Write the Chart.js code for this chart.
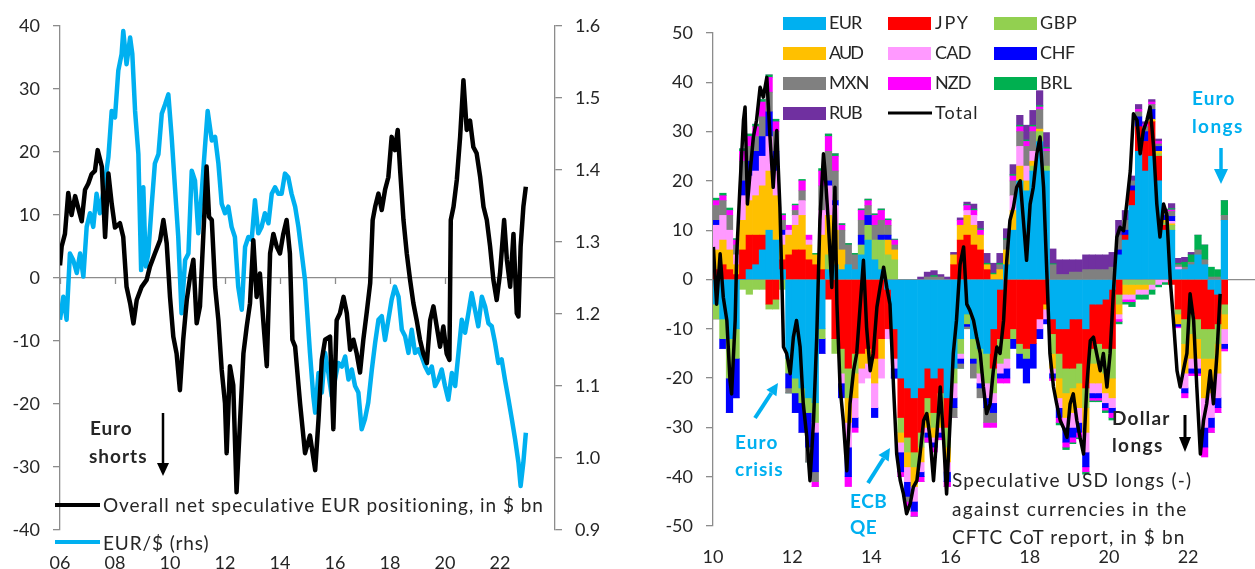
<!DOCTYPE html>
<html><head><meta charset="utf-8">
<script src="https://cdn.jsdelivr.net/npm/chart.js@4.4.1/dist/chart.umd.min.js"></script>
<style>
html,body{margin:0;padding:0;background:#fff;}
body{width:1255px;height:569px;position:relative;overflow:hidden;font-family:Lato,"Noto Sans",sans-serif;color:#262626;}
canvas{position:absolute;top:0;}
#c1{left:0;}
#c2{left:640px;}
.t{position:absolute;white-space:nowrap;line-height:1;font-size:19px;}
.b{font-weight:bold;}
.bl{color:#00B0F0;}
.sw{position:absolute;width:43px;height:13px;}
svg{position:absolute;left:0;top:0;}
</style></head>
<body>
<canvas id="c1" width="610" height="600"></canvas>
<canvas id="c2" width="615" height="600"></canvas>
<svg width="1255" height="569" viewBox="0 0 1255 569">
  <line x1="55" y1="505" x2="100" y2="505" stroke="#000" stroke-width="4"/>
  <line x1="55" y1="542" x2="100" y2="542" stroke="#00B0F0" stroke-width="4"/>
  <line x1="163" y1="413" x2="163" y2="466" stroke="#000" stroke-width="2.5"/>
  <polygon points="157,463 169,463 163,476" fill="#000"/>
  <line x1="1221" y1="148" x2="1221" y2="172" stroke="#00B0F0" stroke-width="3.5"/>
  <polygon points="1214,169 1228,169 1221,184" fill="#00B0F0"/>
  <line x1="1185" y1="415" x2="1185" y2="440" stroke="#000" stroke-width="3"/>
  <polygon points="1179,437 1191,437 1185,452" fill="#000"/>
  <line x1="755" y1="418" x2="771.4" y2="393" stroke="#00B0F0" stroke-width="4"/>
  <polygon points="778,383 776.4,396.3 766.4,389.7" fill="#00B0F0"/>
  <line x1="868" y1="483" x2="883.6" y2="458.2" stroke="#00B0F0" stroke-width="4"/>
  <polygon points="890,448 888.7,461.4 878.5,455.0" fill="#00B0F0"/>
  <line x1="888" y1="113" x2="932" y2="113" stroke="#000" stroke-width="3"/>
</svg>
<div class="t" data-x="103" data-y="505" data-w="441">Overall net speculative EUR positioning, in $ bn</div>
<div class="t" data-x="103" data-y="543" data-w="106">EUR/$ (rhs)</div>
<div class="t b" data-x="90" data-y="428" data-w="42">Euro</div>
<div class="t b" data-x="89" data-y="456" data-w="58">shorts</div>
<div class="t b bl" data-x="1192" data-y="98" data-w="43">Euro</div>
<div class="t b bl" data-x="1192" data-y="126" data-w="51">longs</div>
<div class="t b bl" data-x="735" data-y="442" data-w="43">Euro</div>
<div class="t b bl" data-x="735" data-y="469" data-w="48">crisis</div>
<div class="t b bl" data-x="850" data-y="501" data-w="37">ECB</div>
<div class="t b bl" data-x="850" data-y="527" data-w="27">QE</div>
<div class="t b" data-x="1112" data-y="418" data-w="58">Dollar</div>
<div class="t b" data-x="1112" data-y="445" data-w="51">longs</div>
<div class="t" data-x="952" data-y="480" data-w="240">Speculative USD longs (-)</div>
<div class="t" data-x="952" data-y="509" data-w="235">against currencies in the</div>
<div class="t" data-x="952" data-y="537" data-w="233">CFTC CoT report, in $ bn</div>
<div id="leg2"></div>
<script>
// ---------- LEFT PANEL DATA ----------
const leftTickYears = [2006, 2008, 2010, 2012, 2014, 2016, 2018, 2020, 2022];
const leftTickLabels = ['06', '08', '10', '12', '14', '16', '18', '20', '22'];

const eurPosYears = [2006.00,2006.06,2006.18,2006.30,2006.42,2006.55,2006.67,2006.79,2006.91,2007.03,2007.15,2007.27,2007.37,2007.52,2007.64,2007.76,2007.88,2008.00,2008.18,2008.30,2008.42,2008.55,2008.67,2008.79,2008.97,2009.15,2009.27,2009.45,2009.64,2009.76,2009.88,2010.00,2010.12,2010.24,2010.36,2010.48,2010.61,2010.73,2010.85,2010.97,2011.09,2011.21,2011.33,2011.42,2011.52,2011.64,2011.76,2011.88,2012.00,2012.06,2012.18,2012.30,2012.42,2012.55,2012.67,2012.79,2012.91,2013.03,2013.15,2013.27,2013.39,2013.52,2013.64,2013.76,2013.88,2014.00,2014.12,2014.24,2014.36,2014.45,2014.55,2014.73,2014.91,2015.09,2015.28,2015.40,2015.52,2015.64,2015.82,2015.94,2016.06,2016.18,2016.31,2016.43,2016.55,2016.67,2016.79,2016.91,2017.03,2017.15,2017.28,2017.37,2017.46,2017.58,2017.70,2017.82,2017.94,2018.06,2018.18,2018.28,2018.37,2018.49,2018.61,2018.73,2018.85,2018.97,2019.09,2019.21,2019.34,2019.46,2019.58,2019.70,2019.82,2019.94,2020.06,2020.16,2020.21,2020.31,2020.43,2020.55,2020.67,2020.79,2020.91,2021.03,2021.15,2021.28,2021.40,2021.52,2021.64,2021.76,2021.88,2022.00,2022.15,2022.25,2022.37,2022.49,2022.61,2022.67,2022.75,2022.85,2022.94];
const eurPos = [2.0,5.0,7,13.5,10,13,11,9,14,15,16.5,17,20.3,17.7,6.5,16.6,11.8,8,8.7,6.5,-1.4,-4,-7.2,-3.5,-1.4,-0.3,1.8,3.9,6,9.2,5.5,-3,-9.3,-12,-17.8,-9.8,-3.5,0.2,2.9,-7.2,-4.5,6.6,17.7,9.7,9.2,-1.4,-6.7,-14.6,-19.9,-27.8,-14,-17,-34,-22.5,-12,-7.7,-4,6,-3,0.7,-6.7,-14,3.9,7,5,3.9,7,9.2,3.9,-9.8,-10.9,-19.9,-27.8,-25,-30.5,-22.5,-13,-9.8,-9.3,-24,-6.7,-5.6,-3,-5.6,-11.4,-9.8,-12,-15,-9.8,-5.6,-0.8,9.2,11.3,13.4,10.8,14,16,22.4,20.3,23.5,17,9.2,3.9,-0.3,-4,-6.7,-9.8,-12,-13.5,-6.7,-4.5,-7.7,-10.9,-7.7,-12,-13,9.2,11.3,15.6,22.4,31.4,23.5,25,20.8,19.8,16,11.3,9.2,5,-0.3,-3.5,0.7,9.2,2.9,-1.4,7,-5.6,-6.1,5,11.3,14.5];

const eurUsdYears = [2006.00,2006.12,2006.24,2006.36,2006.48,2006.61,2006.73,2006.85,2006.97,2007.09,2007.21,2007.33,2007.45,2007.64,2007.76,2007.88,2008.00,2008.12,2008.24,2008.30,2008.42,2008.55,2008.63,2008.73,2008.85,2008.95,2009.03,2009.12,2009.21,2009.33,2009.45,2009.58,2009.70,2009.82,2009.94,2010.06,2010.18,2010.30,2010.42,2010.55,2010.67,2010.79,2010.91,2011.03,2011.15,2011.27,2011.37,2011.52,2011.64,2011.76,2011.88,2012.00,2012.12,2012.24,2012.36,2012.48,2012.61,2012.73,2012.85,2012.97,2013.09,2013.21,2013.33,2013.45,2013.58,2013.70,2013.82,2013.94,2014.06,2014.18,2014.30,2014.42,2014.55,2014.67,2014.79,2014.91,2015.09,2015.21,2015.28,2015.40,2015.52,2015.64,2015.76,2015.88,2016.00,2016.12,2016.25,2016.37,2016.49,2016.61,2016.73,2016.85,2016.97,2017.09,2017.21,2017.34,2017.46,2017.58,2017.70,2017.82,2017.94,2018.06,2018.18,2018.31,2018.43,2018.55,2018.67,2018.79,2018.91,2019.03,2019.15,2019.28,2019.40,2019.52,2019.64,2019.76,2019.88,2020.00,2020.12,2020.25,2020.37,2020.49,2020.61,2020.73,2020.85,2020.97,2021.09,2021.21,2021.34,2021.46,2021.58,2021.70,2021.82,2021.94,2022.06,2022.18,2022.31,2022.43,2022.55,2022.67,2022.75,2022.85,2022.94];
const eurUsd = [1.192,1.224,1.192,1.284,1.275,1.257,1.284,1.252,1.321,1.34,1.321,1.367,1.34,1.385,1.418,1.482,1.473,1.538,1.561,1.593,1.547,1.584,1.561,1.482,1.422,1.261,1.376,1.266,1.284,1.349,1.409,1.422,1.478,1.491,1.505,1.446,1.376,1.307,1.201,1.275,1.284,1.399,1.385,1.312,1.367,1.431,1.482,1.441,1.446,1.409,1.353,1.34,1.349,1.321,1.307,1.238,1.206,1.293,1.307,1.303,1.358,1.312,1.321,1.34,1.326,1.367,1.376,1.367,1.367,1.395,1.39,1.367,1.349,1.321,1.284,1.247,1.146,1.086,1.063,1.118,1.091,1.146,1.118,1.086,1.109,1.132,1.127,1.141,1.109,1.123,1.1,1.091,1.04,1.054,1.077,1.123,1.16,1.192,1.197,1.164,1.192,1.22,1.238,1.224,1.178,1.169,1.146,1.178,1.146,1.151,1.141,1.127,1.118,1.127,1.1,1.109,1.123,1.1,1.081,1.118,1.1,1.146,1.192,1.174,1.201,1.229,1.206,1.183,1.224,1.21,1.187,1.183,1.16,1.132,1.137,1.109,1.081,1.054,1.026,0.994,0.961,0.994,1.035];

// ---------- RIGHT PANEL DATA ----------
const rightTickYears = [2010, 2012, 2014, 2016, 2018, 2020, 2022];
const rightTickLabels = ['10', '12', '14', '16', '18', '20', '22'];
const currencies = ['EUR', 'JPY', 'GBP', 'AUD', 'CAD', 'CHF', 'MXN', 'NZD', 'BRL', 'RUB'];

const barYears = [2010.083,2010.25,2010.417,2010.583,2010.75,2010.917,2011.083,2011.25,2011.417,2011.583,2011.75,2011.917,2012.083,2012.25,2012.417,2012.583,2012.75,2012.917,2013.083,2013.25,2013.417,2013.583,2013.75,2013.917,2014.083,2014.25,2014.417,2014.583,2014.75,2014.917,2015.083,2015.25,2015.417,2015.583,2015.75,2015.917,2016.083,2016.25,2016.417,2016.583,2016.75,2016.917,2017.083,2017.25,2017.417,2017.583,2017.75,2017.917,2018.083,2018.25,2018.417,2018.583,2018.75,2018.917,2019.083,2019.25,2019.417,2019.583,2019.75,2019.917,2020.083,2020.25,2020.417,2020.583,2020.75,2020.917,2021.083,2021.25,2021.417,2021.583,2021.75,2021.917,2022.083,2022.25,2022.417,2022.583,2022.75,2022.917];

const EUR = [-5,-8,-12,-10,0,2,3,6,10,8, 2,-16,-20,-22,-24,-25,-10,2,3,2, 3,2,5,8,4,2,-2,-10,-20,-22, -24,-22,-18,-20,-18,-24,-18,-12,-7,-12, -14,-15,-10,-2,3,10,20,18,22,28, 22,-8,-10,-10,-8,-8,-10,-5,-5,-4, -2,5,8,15,26,22,25,20,10,10, 2,2,3,5,3,-2,-3,12];
const JPY = [2,3,2,1,6,7,6,3,-5,-4, 2,5,6,6,4,3,2,-4,-12,-14, -18,-15,-15,-14,-16,-12,-8,-6,-8,-10, -11,-9,-6,-7,-5,-6,3,8,9,7, 6,2,-8,-10,-12,-10,-13,-14,-13,-8, -5,-3,-5,-8,-10,-9,-12,-9,-8,-10, -12,-3,1,3,5,6,7,5,1,-1, -6,-8,-7,-8,-10,-8,-6,-5];
const GBP = [-3,-4,-8,-6,-2,-3,-2,-2,-1,-2, -2,-3,-3,-3,-3,-4,-2,3,-3,-5, -6,-4,2,3,4,6,5,4,-3,-3, -3,-3,-3,-3,-4,-4,-3,-3,-2,-4, -5,-6,-5,-5,-4,-2,-2,-2,1,2, 1,-4,-5,-5,-4,-4,-4,-3,-4,-5, -6,-2,-1,-1,-1,-1,-1,0.5,0.5,1, -1,-5,-4,-4,-6,-6,-4,-2];
const AUD = [4,5,4,2,6,7,8,10,12,9, 3,4,5,7,3,2,7,8,7,4, -5,-5,-3,-3,-5,-4,3,2,-2,-3, -4,-3,-3,-2,-3,-3,2,3,4,4, 3,1,1,2,3,4,3,2,1,0.5, -1,-3,-4,-5,-5,-5,-5,-4,-4,-4, -4,-2,-2,-2,-1,-1,0.5,0.5,0.5,0.3, -2,-6,-5,-4,-8,-7,-6,-3];
const CAD = [5,5,4,2,5,5,5,6,7,5, 2,1,2,3,1,-2,5,6,5,-2, -5,-4,-3,-3,-5,-4,-2,-2,-2,-3, -3,-2,-1,-1,-1,-2,-3,-1,1,2, -2,-3,-2,-2,-2,3,4,3,2,-2, -2,-1,-2,-2,-3,-3,-4,-2,-2,-2, -2,-1,-1,-1,-1,-1,-1,-1,-0.5,0.5, 0.5,-3,-2,-2,-6,-5,-5,-3];
const CHF = [1,-2,-7,-8,3,3,4,4,5,4, 1,-3,-4,-6,-7,-8,-3,1,1,-3, -6,-2,2,2,-2,1,1,-2,-4,-3, -2,-1,-1,-1,-1,-2,-2,-1,-0.5,-1, -1,-2,-2,-1,-2,-2,-3,-5,-5,-2, -1,-1,-2,-3,-2,-2,-3,-1,-1,-1, -1,1,1,1,2,2,2,1,1,1, -0.5,-1,-1,-1,-4,-2,-2,-1];
const MXN = [3,3,3,2,4,3,3,4,4,4, 2,-1,1,2,-3,-2,5,6,6,4, 4,3,3,2,3,3,2,1,0,-1, 0,0,0.5,0.5,0.5,0,-2,-1,-0.5,-3, -2,-3,-2,1,2,3,3,4,4,4, 3,3,1,1,1.5,1.5,2,2,2,2, 2.5,3,2,1,1,1,1,0.5,0.5,1, 0.5,0.5,0.5,1,1,0.5,0.5,1];
const NZD = [1,1,1,1,2,2,2,3,3,2, 1,1,1,2,1,-1,3,3,3,1, -2,-1,2,1,2,2,1,1,-1,-1, -1,-1,-1,-1,-0.5,-1,0,1,1,1, 1,-1,-1,-1,-1,1,1,1,1,0.5, 0.5,-0.5,-1,-1,-1,-1,-1,-0.5,-0.5,-0.5, -1,-0.5,-0.5,-0.5,0.5,0.5,0.5,0.5,0.3,0.3, -0.3,-1,-0.5,-0.5,-2,-1,-1,-0.5];
const BRL = [0.5,0.5,0.5,0.3,0.5,0.5,0.5,0.5,0.5,0.5, 0.3,0,0.3,0.3,0,0.3,0.5,0.5,0.5,0.3, 0.3,0.3,0.3,0.3,0.3,0.3,0.3,0.2,0,0, 0,0,0,0.3,0,0,0,0,0.2,0.3, 0.3,0.3,0.3,0.3,0.3,0.3,0.3,0.3,0.3,0.3, 0.3,0.2,-0.5,-0.5,-0.3,-0.3,-0.5,-0.3,-0.3,-0.5, -0.5,-0.5,-0.5,-1,-1,-1,-1,-0.5,-0.5,0.3, 0.3,1,1.5,3,3,2,1.5,3];
const RUB = [0,0,0,0,0,0,0,0,0,0, 0,0,0,0,0,0,0,0,0,0, 0,0,0,0,0,0,0,0,0,0, 0,0.5,1,1,0.5,0.5,0.5,0.5,0.5,1, 1.5,2,2,2,2,2,2,3,3,3, 3,3,3,3,2.5,2.5,3,3,3,3, 3,3,2,1,1,0.5,0.5,0.5,0.5,1, 1,1,0.5,0,0,0,0,0];

const totalYears = [2010.01,2010.09,2010.18,2010.26,2010.35,2010.43,2010.47,2010.56,2010.60,2010.68,2010.77,2010.81,2010.87,2010.94,2011.02,2011.10,2011.19,2011.27,2011.36,2011.44,2011.52,2011.61,2011.69,2011.74,2011.78,2011.86,2011.95,2012.03,2012.11,2012.20,2012.28,2012.37,2012.45,2012.54,2012.62,2012.70,2012.79,2012.83,2012.91,2013.00,2013.08,2013.13,2013.21,2013.29,2013.38,2013.46,2013.55,2013.63,2013.72,2013.80,2013.88,2013.97,2014.05,2014.14,2014.22,2014.31,2014.39,2014.47,2014.56,2014.64,2014.73,2014.81,2014.89,2014.98,2015.06,2015.15,2015.23,2015.32,2015.40,2015.48,2015.57,2015.65,2015.74,2015.82,2015.90,2015.99,2016.07,2016.15,2016.24,2016.33,2016.41,2016.49,2016.58,2016.66,2016.75,2016.83,2016.91,2017.00,2017.08,2017.17,2017.25,2017.34,2017.42,2017.50,2017.59,2017.67,2017.76,2017.84,2017.92,2018.01,2018.09,2018.18,2018.26,2018.35,2018.43,2018.51,2018.60,2018.68,2018.77,2018.85,2018.94,2019.02,2019.10,2019.19,2019.27,2019.36,2019.44,2019.53,2019.61,2019.69,2019.78,2019.86,2019.95,2020.03,2020.12,2020.20,2020.28,2020.37,2020.45,2020.54,2020.62,2020.71,2020.79,2020.87,2020.96,2021.04,2021.13,2021.21,2021.29,2021.38,2021.46,2021.55,2021.63,2021.72,2021.80,2021.88,2021.97,2022.05,2022.14,2022.22,2022.31,2022.39,2022.47,2022.56,2022.64,2022.73,2022.81];
const total = [6.6,-5,5.2,-3.6,-8.3,-20.5,-23.2,-8.3,5.2,18.7,32.3,35,15.3,22,28.9,32.3,39,37,41,28.9,18.7,30.2,14.7,-0.2,-13.7,-15,-19.1,-11.7,-8.3,-13.7,-25.2,-32,-40.8,-28.6,-11.7,12,25.5,22,12,-1.6,18.7,-5,-21.8,-28.6,-38.8,-25.2,-18.5,-15,-5,3.9,-9.7,-18.5,-15,-5.6,-1.6,2.5,-1.6,-5,-21.8,-35.4,-40.8,-43.5,-47.5,-45.5,-42.1,-40.8,-35.4,-28.6,-27.2,-32,-40.8,-32,-21.8,-32,-43.5,-28.6,-15,-8.3,3,6.6,-5,-6.3,-8.3,-11.7,-15,-21.8,-27.2,-25.2,-18.5,-13.7,-15,-8.3,3.9,12,14.7,18.7,20,12,3.9,15.3,18.7,25.5,28.9,18.7,1.8,-15,-21.8,-25.2,-28.6,-30,-32,-25.2,-23.2,-28.6,-32,-35.4,-21.8,-12.4,-11.7,-15,-18.5,-15,-21.8,-15,-1.6,8.6,10.6,9.9,15.3,22,33.6,32.3,25.5,30.2,32.3,35,26.8,15.3,8.6,15.3,13.3,-0.2,-8.3,-18.5,-21.8,-18.5,-15,-2.9,-8.3,-21.8,-35.4,-28.6,-25.2,-18.5,-25.2,-15,-2.9];

// ---------- STYLES ----------
const currencyColors = {EUR:'#00B0F0', JPY:'#FF0000', GBP:'#92D050', AUD:'#FFC000', CAD:'#FF99FF', CHF:'#0000FF', MXN:'#808080', NZD:'#FF00FF', BRL:'#00B050', RUB:'#7030A0'};
const currencyData = {EUR, JPY, GBP, AUD, CAD, CHF, MXN, NZD, BRL, RUB};
const AXIS = '#8c8c8c';
const TXT = '#262626';

Chart.defaults.font.family = 'Lato, "Noto Sans", sans-serif';
Chart.defaults.font.size = 18;
Chart.defaults.color = TXT;

const zeroTicks = {
  id: 'zeroTicks',
  beforeDatasetsDraw(chart) {
    const {ctx, scales} = chart;
    const x = scales.x, y = scales.y;
    const y0 = y.getPixelForValue(0);
    ctx.save();
    ctx.strokeStyle = AXIS; ctx.lineWidth = 1.3;
    x.ticks.forEach(t => {
      const px = Math.round(x.getPixelForValue(t.value)) + 0.5;
      ctx.beginPath(); ctx.moveTo(px, y0); ctx.lineTo(px, y0 + 6); ctx.stroke();
    });
    ctx.restore();
  }
};
const zeroGrid = c => (c.tick && c.tick.value === 0) ? AXIS : 'rgba(0,0,0,0)';
const pts = (xs, ys) => xs.map((x, i) => ({x, y: ys[i]}));

new Chart(document.getElementById('c1'), {
  type: 'line',
  data: {datasets: [
    {label: 'Overall net speculative EUR positioning, in $ bn', data: pts(eurPosYears, eurPos), yAxisID: 'y', borderColor: '#000', borderWidth: 4.5, pointRadius: 0, tension: 0, borderJoinStyle: 'round'},
    {label: 'EUR/$ (rhs)', data: pts(eurUsdYears, eurUsd), yAxisID: 'y1', borderColor: '#00B0F0', borderWidth: 4.5, pointRadius: 0, tension: 0, borderJoinStyle: 'round'}
  ]},
  options: {
    responsive: false, animation: false, events: [],
    layout: {padding: {top: 26, left: 0, right: 0, bottom: 0}},
    plugins: {legend: {display: false}, tooltip: {enabled: false}},
    scales: {
      x: {type: 'linear', min: 2006, max: 2024, offset: false,
          afterBuildTicks: s => { s.ticks = leftTickYears.map(v => ({value: v})); },
          ticks: {autoSkip: false, maxRotation: 0, padding: 22, callback: v => leftTickLabels[leftTickYears.indexOf(v)] ?? ''},
          grid: {display: false, drawTicks: false}, border: {display: false},
          afterFit: s => { s.height = 70; }},
      y: {position: 'left', min: -40, max: 40,
          ticks: {stepSize: 10, padding: 13},
          grid: {color: zeroGrid, tickColor: AXIS, tickLength: 7, lineWidth: 1.3},
          border: {color: AXIS, width: 1.3},
          afterFit: s => { s.width = 60; }},
      y1: {position: 'right', min: 0.9, max: 1.6,
          ticks: {stepSize: 0.1, padding: 13, callback: v => Number(v).toFixed(1)},
          grid: {drawOnChartArea: false, tickColor: AXIS, tickLength: 7, lineWidth: 1.3},
          border: {color: AXIS, width: 1.3},
          afterFit: s => { s.width = 55; }}
    }
  },
  plugins: [zeroTicks]
});

const barSets = currencies.map(c => ({
  type: 'bar', label: c, data: pts(barYears, currencyData[c]), stack: 'ccy', order: 1,
  backgroundColor: currencyColors[c], borderWidth: 0, barPercentage: 1, categoryPercentage: 1
}));
new Chart(document.getElementById('c2'), {
  type: 'bar',
  data: {datasets: [
    {type: 'line', label: 'Total', data: pts(totalYears, total), stack: 'total', order: 0, borderColor: '#000', borderWidth: 3.5, pointRadius: 0, tension: 0, fill: false, borderJoinStyle: 'round'},
    ...barSets
  ]},
  options: {
    responsive: false, animation: false, events: [],
    layout: {padding: {top: 33, left: 0, right: 0, bottom: 0}},
    plugins: {legend: {display: false}, tooltip: {enabled: false}},
    scales: {
      x: {type: 'linear', min: 2010, max: 2023.69, offset: false, stacked: true,
          afterBuildTicks: s => { s.ticks = rightTickYears.map(v => ({value: v})); },
          ticks: {autoSkip: false, maxRotation: 0, padding: 20, callback: v => rightTickLabels[rightTickYears.indexOf(v)] ?? ''},
          grid: {display: false, drawTicks: false, offset: false}, border: {display: false},
          afterFit: s => { s.height = 74; }},
      y: {position: 'left', min: -50, max: 50, stacked: true,
          ticks: {stepSize: 10, padding: 13},
          grid: {color: zeroGrid, tickColor: AXIS, tickLength: 7, lineWidth: 1.3},
          border: {color: AXIS, width: 1.3},
          afterFit: s => { s.width = 73; }}
    }
  },
  plugins: [zeroTicks]
});

// ---------- RIGHT LEGEND (HTML) ----------
const legendItems = [...currencies, 'Total'];
const legCols = [783, 888, 994], legText = [829, 935, 1040], legRows = [23, 53, 83, 113];
const legTarget = {EUR:33, JPY:34, GBP:37, AUD:34, CAD:36, CHF:35, MXN:40, NZD:36, BRL:32, RUB:33, Total:43};
const leg = document.getElementById('leg2');
legendItems.forEach((name, i) => {
  const col = i % 3, row = Math.floor(i / 3);
  if (name !== 'Total') {
    const sw = document.createElement('div');
    sw.className = 'sw';
    sw.style.left = legCols[col] + 'px';
    sw.style.top = (legRows[row] - 6.5) + 'px';
    sw.style.background = currencyColors[name];
    leg.appendChild(sw);
  }
  const t = document.createElement('div');
  t.className = 't';
  t.style.fontSize = '18px';
  t.textContent = name;
  t.dataset.x = legText[col]; t.dataset.y = legRows[row]; t.dataset.w = legTarget[name];
  leg.appendChild(t);
});

// ---------- POSITION AND FIT TEXT ----------
document.querySelectorAll('.t').forEach(el => {
  const fs = parseFloat(getComputedStyle(el).fontSize);
  el.style.left = el.dataset.x + 'px';
  el.style.top = (parseFloat(el.dataset.y) - 0.53 * fs) + 'px';
  const target = parseFloat(el.dataset.w);
  const cur = el.getBoundingClientRect().width;
  const n = el.textContent.length;
  if (n > 1) el.style.letterSpacing = ((target - cur) / (n - 0.5)) + 'px';
});
</script>
</body></html>
